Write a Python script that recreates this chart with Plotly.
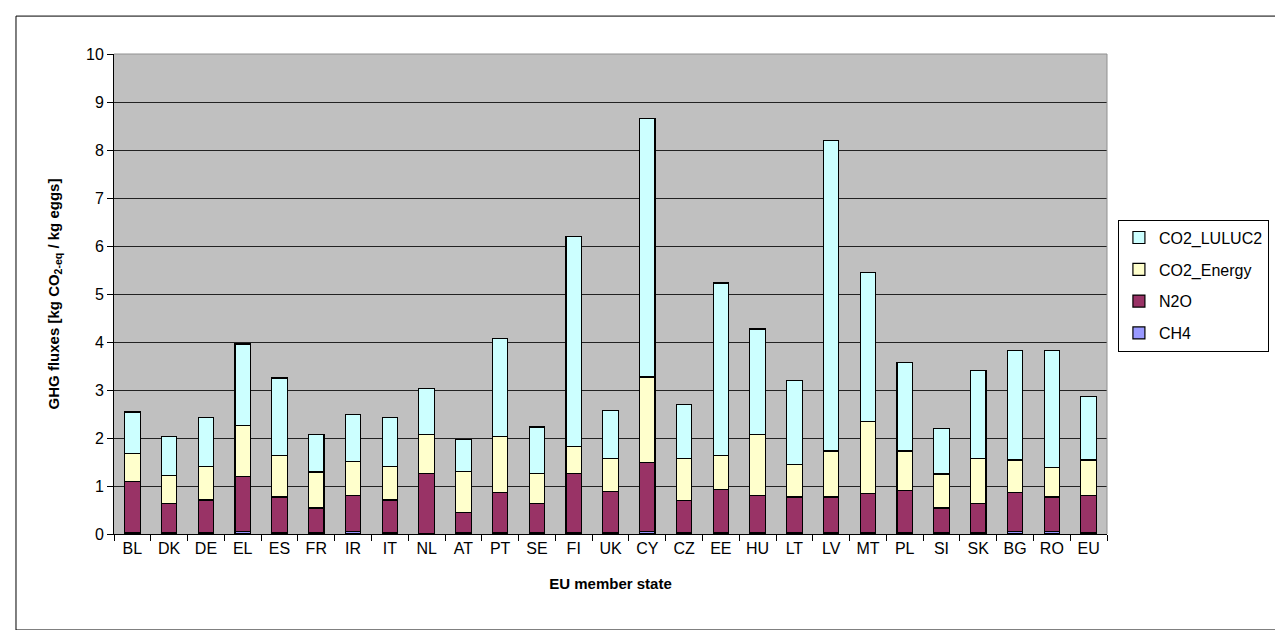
import plotly.graph_objects as go

states = ['BL', 'DK', 'DE', 'EL', 'ES', 'FR', 'IR', 'IT', 'NL', 'AT', 'PT', 'SE', 'FI', 'UK',
          'CY', 'CZ', 'EE', 'HU', 'LT', 'LV', 'MT', 'PL', 'SI', 'SK', 'BG', 'RO', 'EU']

ch4 = [0.02, 0.03, 0.03, 0.06, 0.03, 0.02, 0.06, 0.02, 0.01, 0.02, 0.03, 0.02, 0.02, 0.02,
       0.06, 0.02, 0.02, 0.02, 0.02, 0.02, 0.02, 0.02, 0.02, 0.02, 0.06, 0.05, 0.03]
n2o = [1.07, 0.61, 0.68, 1.13, 0.74, 0.52, 0.74, 0.69, 1.25, 0.43, 0.84, 0.62, 1.24, 0.87,
       1.43, 0.68, 0.91, 0.79, 0.75, 0.75, 0.82, 0.88, 0.52, 0.62, 0.80, 0.72, 0.78]
co2_energy = [0.58, 0.58, 0.70, 1.07, 0.86, 0.75, 0.71, 0.70, 0.81, 0.85, 1.16, 0.62, 0.56, 0.68,
              1.78, 0.87, 0.71, 1.26, 0.67, 0.96, 1.51, 0.83, 0.71, 0.93, 0.68, 0.61, 0.73]
co2_luluc = [0.87, 0.81, 1.01, 1.70, 1.62, 0.78, 0.98, 1.01, 0.96, 0.67, 2.05, 0.97, 4.37, 1.01,
             5.38, 1.13, 3.59, 2.20, 1.75, 6.47, 3.10, 1.85, 0.94, 1.84, 2.29, 2.45, 1.32]

series = [('CH4', ch4, '#9999FF'),
          ('N2O', n2o, '#993366'),
          ('CO2_Energy', co2_energy, '#FFFFCC'),
          ('CO2_LULUC2', co2_luluc, '#CCFFFF')]

fig = go.Figure()
for i, (name, vals, col) in enumerate(series):
    # separate legend groups so tracegroupgap spaces the legend rows like Excel,
    # legendrank puts the top of the stack first
    fig.add_trace(go.Bar(x=states, y=vals, name=name, legendgroup=name,
                         legendrank=100 - i,
                         marker=dict(color=col, line=dict(color='black', width=1.2))))

fig.update_layout(
    barmode='stack',
    bargap=0.58,
    width=1283, height=630,
    margin=dict(l=106, r=184, t=46, b=104),
    paper_bgcolor='white',
    plot_bgcolor='#C0C0C0',
    font=dict(family='Liberation Sans, Arial', size=16, color='black'),
    showlegend=True,
    legend=dict(traceorder='grouped', x=1.011, y=0.655, xanchor='left', yanchor='top',
                bgcolor='white', bordercolor='black', borderwidth=1,
                font=dict(size=16), tracegroupgap=8, itemwidth=30),
    xaxis=dict(title=dict(text='<b>EU member state</b>', font=dict(size=15), standoff=22),
               showline=True, linecolor='black', linewidth=1,
               ticks='outside', ticklen=6, tickcolor='black', tickson='boundaries',
               showgrid=False),
    yaxis=dict(title=dict(text='<b>GHG fluxes [kg CO<sub>2-eq</sub> / kg eggs]</b>',
                          font=dict(size=15), standoff=22),
               range=[0, 10], dtick=1, showline=True, linecolor='black', linewidth=1,
               ticks='outside', ticklen=6, tickcolor='black',
               showgrid=True, gridcolor='#222222', gridwidth=1, zeroline=False),
    shapes=[
        dict(type='line', xref='paper', yref='paper', x0=0, x1=1, y0=1, y1=1,
             line=dict(color='#909090', width=1)),
        dict(type='line', xref='paper', yref='paper', x0=1, x1=1, y0=0, y1=1,
             line=dict(color='#909090', width=1)),
        dict(type='rect', xref='paper', yref='paper', x0=-0.0987, x1=1.1773, y0=-0.2, y1=1.079,
             line=dict(color='black', width=1)),
    ],
)

fig.write_html('out.html')
